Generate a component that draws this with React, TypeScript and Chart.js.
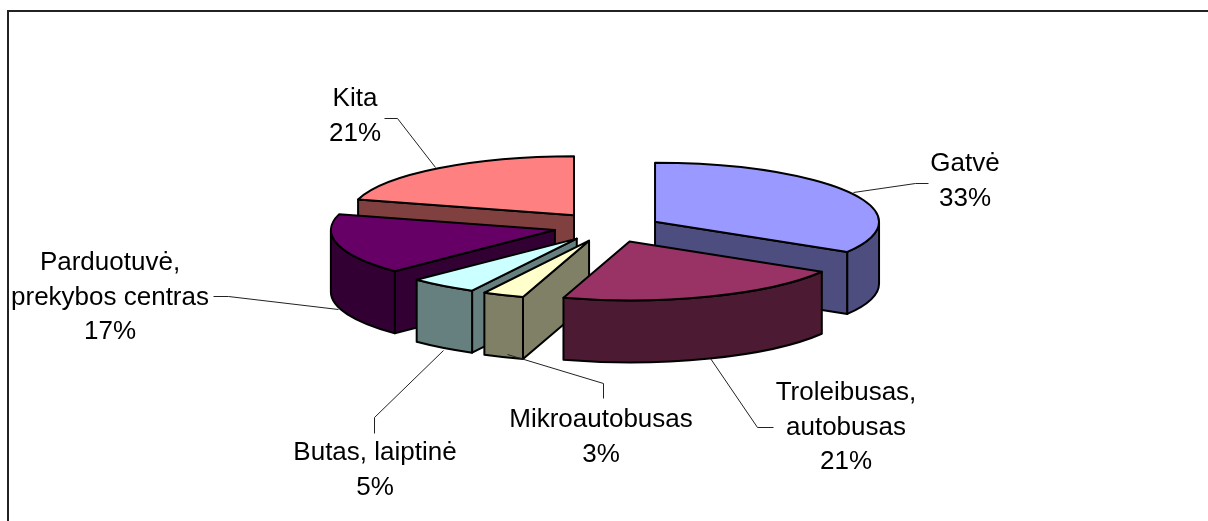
import React, { useEffect, useRef } from "react";
import { Chart, registerables } from "chart.js";

Chart.register(...registerables);

const categories = [
  ["Gatvė"],
  ["Troleibusas,", "autobusas"],
  ["Mikroautobusas"],
  ["Butas, laiptinė"],
  ["Parduotuvė,", "prekybos centras"],
  ["Kita"],
];
const shares = [33, 21, 3, 5, 17, 21];
const topColors = ["#9999FF", "#993366", "#FFFFCC", "#CCFFFF", "#660066", "#FF8080"];
const sideColors = ["#4D4D80", "#4D1A33", "#808066", "#668080", "#330033", "#804040"];
const drawOrder = [5, 0, 4, 3, 2, 1];

const labelCenters = [
  [965, 164],
  [846, 393],
  [601, 420],
  [375, 453],
  [110, 263],
  [355, 99],
];
const leaders = [
  [[928, 183], [915, 183], [853, 192]],
  [[773, 427], [757, 427], [710, 358]],
  [[603, 398], [603, 383], [507, 354]],
  [[374, 433], [374, 417], [443, 350]],
  [[213, 296], [228, 296], [338, 309]],
  [[384, 118], [397, 118], [435, 167]],
];

const SQUASH = 0.263;
const DEPTH = 62;
const CENTER_Y = 227.6;
const LINE_STEP = 34.6;
const TILT = 0.03;
const FRONT_TWIST = (2.8 * Math.PI) / 180;

// Perspective of the 3-D view: the front of the pie turns a little, the back edge stays put.
const view = (a: number) => a + (FRONT_TWIST * (1 + Math.sin(a))) / 2;

const pie3d = {
  id: "pie3d",
  beforeDraw(chart: any) {
    const { ctx, width, height } = chart;
    ctx.save();
    ctx.fillStyle = "#fff";
    ctx.fillRect(0, 0, width, height);
    ctx.strokeStyle = "#222";
    ctx.lineWidth = 2;
    ctx.beginPath();
    ctx.moveTo(8, height);
    ctx.lineTo(8, 11);
    ctx.lineTo(width, 11);
    ctx.stroke();
    ctx.restore();
  },
  beforeDatasetsDraw(chart: any) {
    const { ctx } = chart;
    const arcs = chart.getDatasetMeta(0).data;
    ctx.save();
    ctx.lineWidth = 2;
    ctx.lineJoin = "round";
    ctx.strokeStyle = "#000";
    for (const i of drawOrder) {
      const arc = arcs[i];
      const { x, startAngle, endAngle, outerRadius: r } = arc.getProps(
        ["x", "startAngle", "endAngle", "outerRadius"],
        true,
      );
      const off = (arc.options.offset || 0) / 4;
      const mid = (startAngle + endAngle) / 2;
      const a0 = view(startAngle);
      const a1 = view(endAngle);
      const cx = x + Math.cos(mid) * off;
      const cy = CENTER_Y + Math.sin(mid) * off * SQUASH + (cx - x) * TILT;
      const px = (a: number) => cx + Math.cos(a) * r;
      const py = (a: number) => cy + Math.sin(a) * r * SQUASH;
      const paint = (fill: string) => {
        ctx.fillStyle = fill;
        ctx.fill();
        ctx.stroke();
      };
      // radial faces that look toward the viewer
      for (const [a, normal] of [
        [a0, a0 - Math.PI / 2],
        [a1, a1 + Math.PI / 2],
      ]) {
        if (Math.sin(normal) > 0) {
          ctx.beginPath();
          ctx.moveTo(cx, cy);
          ctx.lineTo(px(a), py(a));
          ctx.lineTo(px(a), py(a) + DEPTH);
          ctx.lineTo(cx, cy + DEPTH);
          ctx.closePath();
          paint(sideColors[i]);
        }
      }
      // curved outer wall, front half only
      const w0 = Math.max(a0, 0);
      const w1 = Math.min(a1, Math.PI);
      if (w1 > w0) {
        ctx.beginPath();
        ctx.ellipse(cx, cy, r, r * SQUASH, 0, w0, w1);
        ctx.lineTo(px(w1), py(w1) + DEPTH);
        ctx.ellipse(cx, cy + DEPTH, r, r * SQUASH, 0, w1, w0, true);
        ctx.closePath();
        paint(sideColors[i]);
      }
      // top
      ctx.beginPath();
      ctx.moveTo(cx, cy);
      ctx.ellipse(cx, cy, r, r * SQUASH, 0, a0, a1);
      ctx.closePath();
      paint(arc.options.backgroundColor);
    }
    ctx.restore();
    return false;
  },
  afterDraw(chart: any) {
    const { ctx } = chart;
    ctx.save();
    ctx.strokeStyle = "#222";
    ctx.lineWidth = 1;
    for (const line of leaders) {
      ctx.beginPath();
      line.forEach(([x, y], k) => (k ? ctx.lineTo(x + 0.5, y + 0.5) : ctx.moveTo(x + 0.5, y + 0.5)));
      ctx.stroke();
    }
    ctx.fillStyle = "#000";
    ctx.font = '26px "Liberation Sans", Arial, sans-serif';
    ctx.textAlign = "center";
    ctx.textBaseline = "middle";
    categories.forEach((lines, i) => {
      const [x, y] = labelCenters[i];
      [...lines, `${shares[i]}%`].forEach((t, k) => ctx.fillText(t, x, y + k * LINE_STEP));
    });
    ctx.restore();
  },
};

export default function App() {
  const ref = useRef<HTMLCanvasElement>(null);
  useEffect(() => {
    const chart = new Chart(ref.current!, {
      type: "pie",
      data: {
        labels: categories.map((c) => c.join(" ")),
        datasets: [{ data: shares, backgroundColor: topColors, offset: 220, borderWidth: 0 }],
      },
      options: {
        responsive: false,
        animation: false,
        radius: 224,
        layout: { padding: { left: 7.4 } },
        plugins: { legend: { display: false }, tooltip: { enabled: false } },
      } as any,
      plugins: [pie3d],
    });
    return () => chart.destroy();
  }, []);
  return (
    <div style={{ position: "absolute", left: 0, top: 0 }}>
      <canvas ref={ref} width={1208} height={521} style={{ display: "block" }} />
    </div>
  );
}
